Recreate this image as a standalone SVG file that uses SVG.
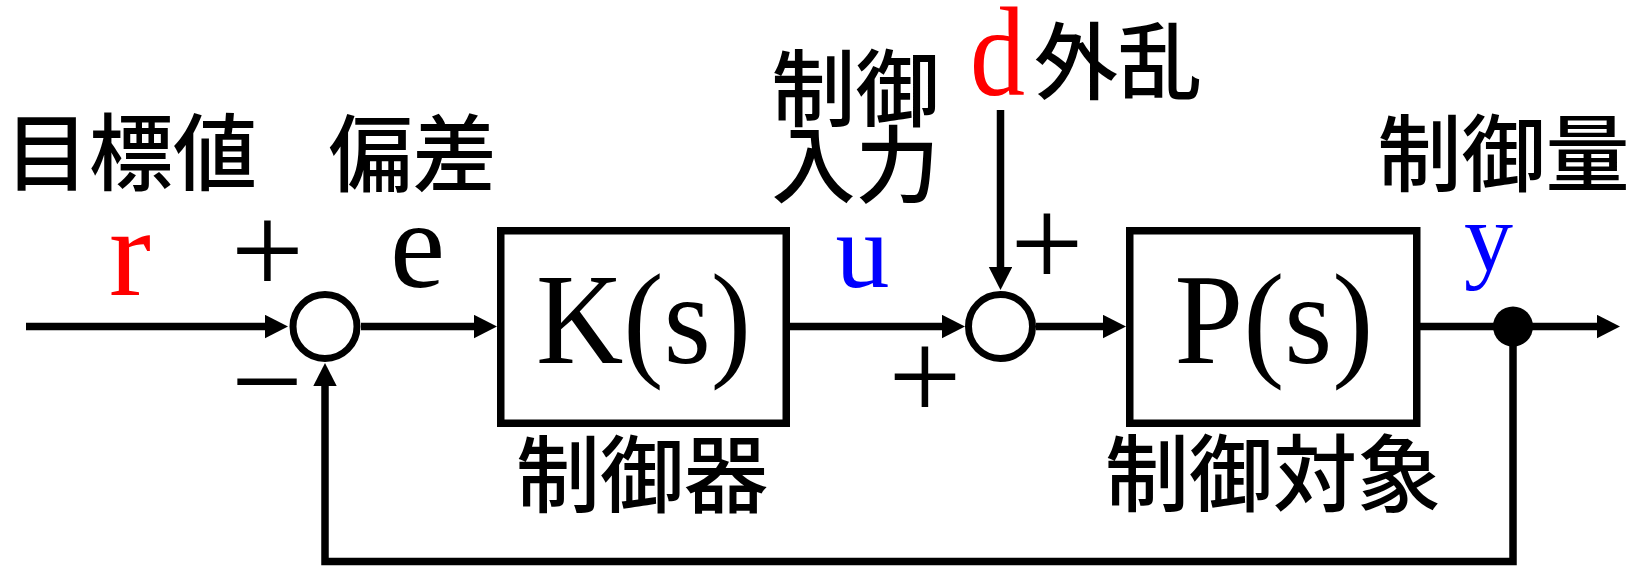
<svg xmlns="http://www.w3.org/2000/svg" width="1641" height="568" viewBox="0 0 1641 568">
  <defs>
    <marker id="arrow" markerUnits="userSpaceOnUse" markerWidth="24" markerHeight="24" refX="3" refY="11.7" orient="auto">
      <path d="M0,0 L23,11.7 L0,23.4 Z" fill="#000"/>
    </marker>
    <style>
      .line { fill: none; stroke: #000; stroke-width: 7.5; stroke-linecap: butt; stroke-linejoin: miter; }
      .arr { marker-end: url(#arrow); }
      .box { fill: #fff; stroke: #000; stroke-width: 7.5; }
      .sum { fill: #fff; stroke: #000; stroke-width: 7; }
      .jp { font-family: "Noto Sans CJK JP", "Noto Sans CJK SC", sans-serif; font-size: 84px; font-weight: 500; fill: #000; }
      .math { font-family: "Liberation Serif", "Times New Roman", serif; fill: #000; }
      .sign { font-family: "Liberation Serif", "Times New Roman", serif; font-size: 130px; fill: #000; text-anchor: middle; }
      .red { fill: #ff0000; }
      .blue { fill: #0000ff; }
    </style>
  </defs>
  <rect width="1641" height="568" fill="#fff"/>

  <g id="connectors">
    <path class="line arr" d="M26,326.5 H268"/>
    <path class="line arr" d="M361,326.5 H477"/>
    <path class="line arr" d="M790,326.5 H945"/>
    <path class="line arr" d="M1036,326.5 H1106"/>
    <path class="line arr" d="M1420,326.5 H1600"/>
    <path class="line arr" d="M1000.5,110 V270"/>
    <path class="line arr" d="M1513,326.5 V561.5 H325 V383"/>
  </g>

  <g id="sum1">
    <circle class="sum" cx="325" cy="326.5" r="32"/>
    <text class="sign" x="267.5" y="294">+</text>
    <text class="sign" x="267" y="425" textLength="72" lengthAdjust="spacingAndGlyphs">−</text>
  </g>

  <g id="controller">
    <rect class="box" x="500.75" y="230.75" width="285.5" height="192.5"/>
    <text class="math" x="536" y="363" font-size="130" textLength="215" lengthAdjust="spacingAndGlyphs">K(s)</text>
    <text class="jp" x="642" y="506" text-anchor="middle">制御器</text>
  </g>

  <g id="sum2">
    <circle class="sum" cx="1000.5" cy="326.5" r="32"/>
    <text class="sign" x="1047" y="287">+</text>
    <text class="sign" x="925" y="420">+</text>
  </g>

  <g id="plant">
    <rect class="box" x="1129.75" y="230.75" width="287" height="192.5"/>
    <text class="math" x="1174.5" y="363" font-size="130" textLength="199" lengthAdjust="spacingAndGlyphs">P(s)</text>
    <text class="jp" x="1273" y="505" text-anchor="middle">制御対象</text>
  </g>

  <g id="branch">
    <circle cx="1513" cy="326.5" r="20" fill="#000"/>
  </g>

  <g id="labels">
    <text class="jp" x="131" y="184" text-anchor="middle">目標値</text>
    <text class="jp" x="412.5" y="185" text-anchor="middle">偏差</text>
    <text class="jp" x="855.5" y="120" text-anchor="middle">制御</text>
    <text class="jp" x="855.5" y="196" text-anchor="middle">入力</text>
    <text class="jp" x="1118" y="93" text-anchor="middle">外乱</text>
    <text class="jp" x="1503.5" y="185" text-anchor="middle">制御量</text>
    <text class="math red" x="109" y="295" font-size="126">r</text>
    <text class="math" x="390" y="287" font-size="124">e</text>
    <text class="math blue" x="835.5" y="287" font-size="108">u</text>
    <text class="math red" x="970" y="95" font-size="126" textLength="55" lengthAdjust="spacingAndGlyphs">d</text>
    <text class="math blue" x="1464" y="270" font-size="98">y</text>
  </g>
</svg>
